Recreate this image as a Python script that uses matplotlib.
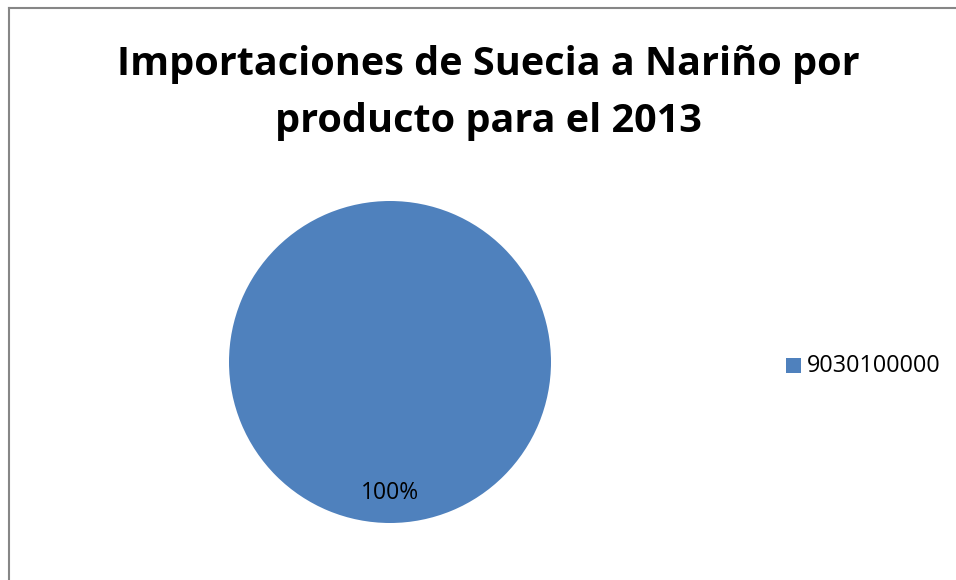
import matplotlib
matplotlib.use("Agg")
import matplotlib.pyplot as plt
from matplotlib.lines import Line2D
from matplotlib.patches import Rectangle

title = "Importaciones de Suecia a Nariño por\nproducto para el 2013"
categories = ["9030100000"]
values = [100.0]
colors = ["#4F81BD"]

W, H = 956, 580
fig = plt.figure(figsize=(W / 100, H / 100), dpi=100)
fig.patch.set_facecolor("white")

def px(x, y):
    return x / W, 1 - y / H

# border (left and top visible)
fig.add_artist(Line2D([8.5 / W, 8.5 / W], [0, 1 - 7.5 / H], color="#868686", lw=1.5, transform=fig.transFigure))
fig.add_artist(Line2D([8.5 / W, 1], [1 - 7.5 / H, 1 - 7.5 / H], color="#868686", lw=1.5, transform=fig.transFigure))

# title
fig.text(488 / W, 1 - 93 / H, title, ha="center", va="center", fontsize=28.5, fontweight="bold",
         family="Open Sans", linespacing=1.62, color="black")

# pie axes
cx, cy, r = 390, 362, 161
ax = fig.add_axes([(cx - r) / W, 1 - (cy + r) / H, 2 * r / W, 2 * r / H])
wedges, texts = ax.pie(values, colors=colors, startangle=90, counterclock=False, radius=1.0,
                       wedgeprops=dict(linewidth=0))
ax.set_xlim(-1, 1)
ax.set_ylim(-1, 1)
ax.set_aspect("auto")
ax.axis("off")
total = sum(values)
for v in values:
    ax.text(0, -0.815, f"{v / total * 100:.0f}%", ha="center", va="center", fontsize=16.5,
            family="Open Sans", color="black")

# legend
fig.add_artist(Rectangle(px(786, 373), 15 / W, 15 / H, transform=fig.transFigure,
                         facecolor=colors[0], edgecolor="none"))
fig.text(807 / W, 1 - 366 / H, categories[0], ha="left", va="center", fontsize=16.8,
         family="Open Sans", color="black")

fig.savefig("out.png", dpi=100)
